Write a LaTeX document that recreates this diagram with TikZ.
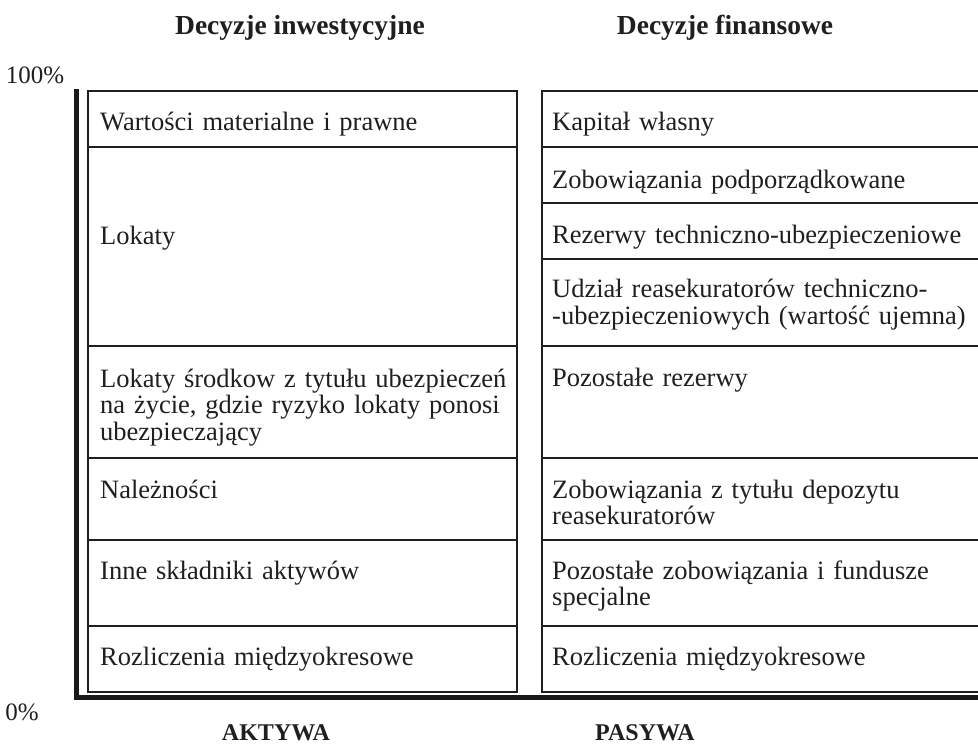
\documentclass[tikz,border=0pt]{standalone}
\usepackage{fontspec}
\setmainfont{Liberation Serif}
\begin{document}
\begin{tikzpicture}[x=1pt,y=-1pt,
  frame/.style={line width=2.4pt, draw=black!88},
  axis/.style={line width=5pt, draw=black!90},
  cell/.style={anchor=base west, inner sep=0pt, text width=430pt, align=left,
    font=\fontsize{26.5}{26.5}\selectfont, text=black!88},
  head/.style={inner sep=0pt, font=\fontsize{27.5}{30}\selectfont\bfseries, text=black!88},
  foot/.style={inner sep=0pt, font=\fontsize{24}{28}\selectfont\bfseries, text=black!88},
  pct/.style={inner sep=0pt, font=\fontsize{25}{26.5}\selectfont, text=black!88}]
\useasboundingbox (0,0) rectangle (978,746);

% headings
\node[head] (hinv) at (300,28) {Decyzje inwestycyjne};
\node[head] (hfin) at (725,28) {Decyzje finansowe};
\node[foot] (akt) at (276,733) {AKTYWA};
\node[foot] (pas) at (645,733) {PASYWA};

% scale labels
\node[pct] (p100) at (35,75) {100\%};
\node[pct] (p0) at (22,712) {0\%};

% axes
\coordinate (otop) at (76,89);
\coordinate (orig) at (76,697);
\coordinate (xend) at (990,697);
\draw[axis] (otop) -- (orig) -- (xend);

% assets column
\draw[frame] (88,91) rectangle (517,692);
\foreach \yy in {147,346,458,540,626} \draw[frame] (88,\yy) -- (517,\yy);
\node[cell] (a1) at (100,131) {Wartości materialne i prawne};
\node[cell] (a2) at (100,245) {Lokaty};
\node[cell] (a3) at (100,387) {Lokaty środkow z tytułu ubezpieczeń\\na życie, gdzie ryzyko lokaty ponosi\\ubezpieczający};
\node[cell] (a4) at (100,498) {Należności};
\node[cell] (a5) at (100,579) {Inne składniki aktywów};
\node[cell] (a6) at (100,665) {Rozliczenia międzyokresowe};

% liabilities column
\draw[frame] (542,91) rectangle (990,692);
\foreach \yy in {147,203,259,346,458,540,626} \draw[frame] (542,\yy) -- (990,\yy);
\node[cell] (l1) at (552,131) {Kapitał własny};
\node[cell] (l2) at (552,189) {Zobowiązania podporządkowane};
\node[cell] (l3) at (552,244) {Rezerwy techniczno-ubezpieczeniowe};
\node[cell] (l4) at (552,298) {Udział reasekuratorów techniczno-\\-ubezpieczeniowych (wartość ujemna)};
\node[cell] (l5) at (552,386) {Pozostałe rezerwy};
\node[cell] (l6) at (552,498) {Zobowiązania z tytułu depozytu\\reasekuratorów};
\node[cell] (l7) at (552,579) {Pozostałe zobowiązania i fundusze\\specjalne};
\node[cell] (l8) at (552,665) {Rozliczenia międzyokresowe};
\end{tikzpicture}
\end{document}
